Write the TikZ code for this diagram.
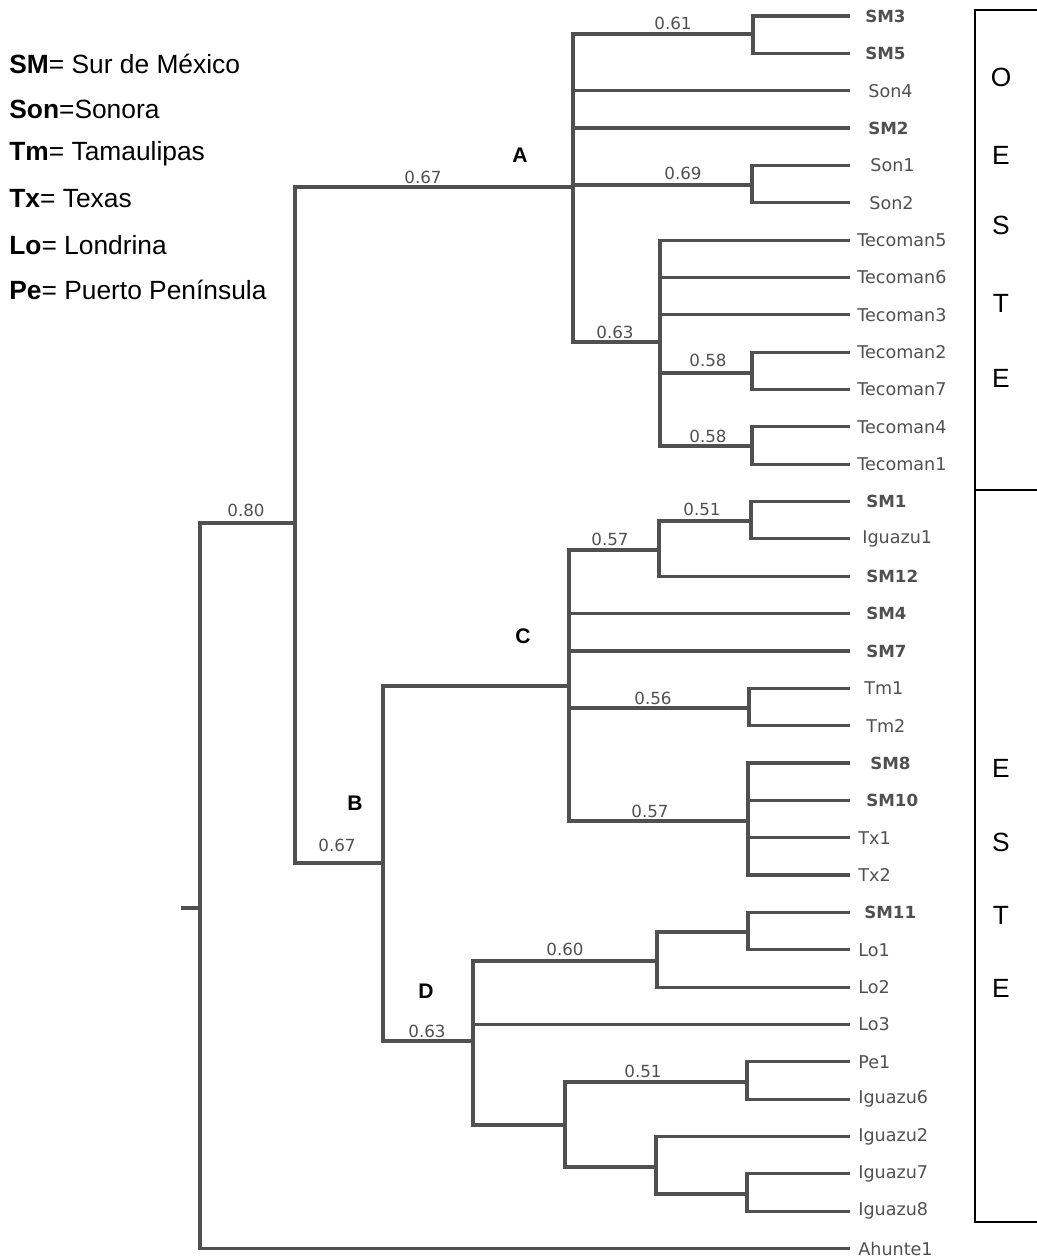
\documentclass[tikz,border=0pt]{standalone}
\usepackage{fontspec}
\setmainfont{Liberation Sans}
\newfontfamily\leaffont{DejaVu Sans}
\usepackage{xcolor}
\usepackage{tikz}
\usetikzlibrary{positioning}
\definecolor{treegray}{RGB}{80,80,80}
\definecolor{labgray}{RGB}{80,80,80}

\begin{document}
\begin{tikzpicture}[
    x=0.02cm, y=-0.02cm,
    branch/.style  ={draw=treegray, line width=1.8pt, line cap=rect},
    leaf/.style    ={anchor=west, inner sep=0pt, text=labgray, font=\leaffont\fontsize{10}{12}\selectfont},
    leafbold/.style={leaf, font=\leaffont\bfseries\fontsize{9.5}{12}\selectfont},
    blabel/.style  ={inner sep=0pt, text=labgray, font=\leaffont\fontsize{9.5}{11}\selectfont},
    clade/.style   ={inner sep=0pt, font=\bfseries\fontsize{12}{14}\selectfont},
    legend/.style  ={anchor=west, inner sep=0pt, font=\fontsize{15}{18}\selectfont},
    region/.style  ={inner sep=0pt, font=\fontsize{15}{18}\selectfont},
    boxline/.style ={draw=black, line width=1.1pt}
]
\useasboundingbox (0,0) rectangle (1037,1260);

% --- legend ---
\node[legend] (lgSM)  at (9,64)  {\textbf{SM}= Sur de México};
\node[legend] (lgSon) at (9,109) {\textbf{Son}=Sonora};
\node[legend] (lgTm)  at (9,154) {\textbf{Tm}= Tamaulipas};
\node[legend] (lgTx)  at (9,199) {\textbf{Tx}= Texas};
\node[legend] (lgLo)  at (9,245) {\textbf{Lo}= Londrina};
\node[legend] (lgPe)  at (9,290) {\textbf{Pe}= Puerto Península};

% --- leaves (tips and labels) ---
\foreach \nm/\lx/\lw [count=\i from 0] in {SM3/865/leafbold, SM5/865/leafbold, Son4/868/leaf, SM2/868/leafbold,
    Son1/870/leaf, Son2/869/leaf, Tecoman5/857/leaf, Tecoman6/857/leaf, Tecoman3/857/leaf, Tecoman2/857/leaf,
    Tecoman7/857/leaf, Tecoman4/857/leaf, Tecoman1/857/leaf, SM1/866/leafbold, Iguazu1/862/leaf, SM12/866/leafbold,
    SM4/866/leafbold, SM7/866/leafbold, Tm1/864/leaf, Tm2/866/leaf, SM8/870/leafbold, SM10/866/leafbold,
    Tx1/858/leaf, Tx2/858/leaf, SM11/864/leafbold, Lo1/858/leaf, Lo2/858/leaf, Lo3/858/leaf, Pe1/858/leaf,
    Iguazu6/858/leaf, Iguazu2/858/leaf, Iguazu7/858/leaf, Iguazu8/858/leaf, Ahunte1/858/leaf}
{
  \coordinate (t-\nm) at (848,{16+37.35*\i});
  \node[\lw] (\nm) at (\lx,{16+37.35*\i}) {\nm};
}

% --- internal nodes ---
\coordinate (stub) at (183,908);
\coordinate (root) at (200,908);
\coordinate (n80)  at (295,523);
\coordinate (nA)   at (573,187);
\coordinate (n61)  at (753,34);
\coordinate (n69)  at (752,185);
\coordinate (n63)  at (660,342);
\coordinate (n58a) at (752,373);
\coordinate (n58b) at (752,446);
\coordinate (nB)   at (383,863);
\coordinate (nC)   at (569,686);
\coordinate (n57a) at (659,550);
\coordinate (n51a) at (751,521);
\coordinate (n56)  at (749,708);
\coordinate (n57b) at (748,821);
\coordinate (nD)   at (473,1041);
\coordinate (n60)  at (657,961);
\coordinate (nL)   at (748,932);
\coordinate (nD2)  at (565,1125);
\coordinate (n51b) at (747,1082);
\coordinate (nI)   at (656,1167);
\coordinate (nI2)  at (747,1194);

% --- branches ---
\draw[branch] (stub) -- (root);
\foreach \p/\c in {root/n80, root/t-Ahunte1, n80/nA, n80/nB,
    nA/n61, nA/t-Son4, nA/t-SM2, nA/n69, nA/n63,
    n61/t-SM3, n61/t-SM5, n69/t-Son1, n69/t-Son2,
    n63/t-Tecoman5, n63/t-Tecoman6, n63/t-Tecoman3, n63/n58a, n63/n58b,
    n58a/t-Tecoman2, n58a/t-Tecoman7, n58b/t-Tecoman4, n58b/t-Tecoman1,
    nB/nC, nB/nD,
    nC/n57a, nC/t-SM4, nC/t-SM7, nC/n56, nC/n57b,
    n57a/n51a, n57a/t-SM12, n51a/t-SM1, n51a/t-Iguazu1,
    n56/t-Tm1, n56/t-Tm2,
    n57b/t-SM8, n57b/t-SM10, n57b/t-Tx1, n57b/t-Tx2,
    nD/n60, nD/t-Lo3, nD/nD2,
    n60/nL, n60/t-Lo2, nL/t-SM11, nL/t-Lo1,
    nD2/n51b, nD2/nI, n51b/t-Pe1, n51b/t-Iguazu6,
    nI/t-Iguazu2, nI/nI2, nI2/t-Iguazu7, nI2/t-Iguazu8}
  \draw[branch] (\p) |- (\c);

% --- branch values ---
\node[blabel] (v61)  at (673,23)   {0.61};
\node[blabel] (v69)  at (683,173)  {0.69};
\node[blabel] (v67a) at (423,177)  {0.67};
\node[blabel] (v80)  at (246,510)  {0.80};
\node[blabel] (v63a) at (615,332)  {0.63};
\node[blabel] (v58a) at (708,360)  {0.58};
\node[blabel] (v58b) at (708,436)  {0.58};
\node[blabel] (v57a) at (610,539)  {0.57};
\node[blabel] (v51a) at (702,509)  {0.51};
\node[blabel] (v56)  at (653,698)  {0.56};
\node[blabel] (v57b) at (650,811)  {0.57};
\node[blabel] (v67b) at (337,845)  {0.67};
\node[blabel] (v60)  at (565,949)  {0.60};
\node[blabel] (v63b) at (427,1031) {0.63};
\node[blabel] (v51b) at (643,1071) {0.51};

% --- clade letters ---
\node[clade] (cA) at (520,155) {A};
\node[clade] (cB) at (355,803) {B};
\node[clade] (cC) at (523,636) {C};
\node[clade] (cD) at (426,991) {D};

% --- region box ---
\draw[boxline] (1037,10) -- (975,10) -- (975,1222) -- (1037,1222);
\draw[boxline] (975,490) -- (1037,490);
\foreach \ch/\yy [count=\k] in {O/77, E/155, S/225, T/303, E/378}
  \node[region] (w\k) at (1001,\yy) {\ch};
\foreach \ch/\yy [count=\k] in {E/768, S/842, T/915, E/988}
  \node[region] (e\k) at (1001,\yy) {\ch};
\end{tikzpicture}
\end{document}
